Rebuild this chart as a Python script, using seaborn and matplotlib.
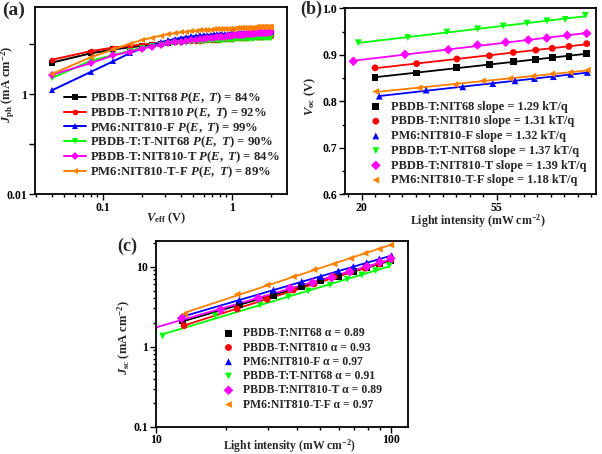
import matplotlib
matplotlib.use("Agg")
import matplotlib.pyplot as plt
import matplotlib.ticker as mticker
import numpy as np
import pandas as pd
import seaborn as sns

# ---- panel (a): Jph vs Veff ----
veff = [0.04, 0.08, 0.12, 0.16, 0.20, 0.24, 0.28, 0.32, 0.36, 0.40,
        0.44, 0.48, 0.52, 0.56, 0.60, 0.64, 0.68, 0.72, 0.76, 0.80,
        0.84, 0.88, 0.92, 0.96, 1.00, 1.04, 1.08, 1.12, 1.16, 1.20,
        1.24, 1.28, 1.32, 1.36, 1.40, 1.44, 1.48, 1.52, 1.56, 1.60,
        1.64, 1.68, 1.72, 1.76, 1.80, 1.84, 1.88, 1.92, 1.96, 2.00]
jph_nit68 = [4.3, 6.6, 7.9, 8.7, 9.3, 9.8, 10.3, 10.7, 11.1, 11.4,
             11.7, 12.0, 12.3, 12.5, 12.7, 12.9, 13.1, 13.3, 13.5, 13.7,
             13.9, 14.1, 14.3, 14.4, 14.6, 14.7, 14.8, 14.9, 15.0, 15.1,
             15.2, 15.3, 15.4, 15.5, 15.6, 15.7, 15.8, 15.8, 15.9, 16.0,
             16.0, 16.1, 16.2, 16.2, 16.3, 16.4, 16.4, 16.5, 16.5, 16.6]
jph_nit810 = [4.9, 7.3, 8.6, 9.3, 9.9, 10.3, 10.6, 10.9, 11.1, 11.3,
              11.5, 11.7, 11.8, 11.9, 12.0, 12.1, 12.2, 12.3, 12.4, 12.5,
              12.6, 12.7, 12.8, 12.9, 13.0, 13.1, 13.2, 13.3, 13.4, 13.5,
              13.5, 13.6, 13.7, 13.8, 13.8, 13.9, 14.0, 14.0, 14.1, 14.2,
              14.2, 14.3, 14.3, 14.4, 14.4, 14.5, 14.5, 14.6, 14.6, 14.7]
jph_nit810f = [1.2, 2.8, 4.6, 6.6, 8.3, 9.8, 11.0, 12.0, 12.8, 13.5,
               14.0, 14.4, 14.7, 15.0, 15.2, 15.4, 15.6, 15.8, 15.9, 16.0,
               16.1, 16.2, 16.3, 16.4, 16.5, 16.6, 16.7, 16.8, 16.8, 16.9,
               17.0, 17.0, 17.1, 17.2, 17.2, 17.3, 17.3, 17.4, 17.4, 17.5,
               17.5, 17.6, 17.6, 17.7, 17.7, 17.8, 17.8, 17.9, 17.9, 18.0]
jph_tnit68 = [2.1, 4.7, 6.1, 7.4, 8.5, 9.2, 9.7, 10.1, 10.4, 10.6,
              10.8, 11.0, 11.1, 11.2, 11.3, 11.4, 11.5, 11.6, 11.7, 11.8,
              11.9, 12.0, 12.1, 12.2, 12.3, 12.4, 12.5, 12.6, 12.6, 12.7,
              12.8, 12.8, 12.9, 12.9, 13.0, 13.0, 13.1, 13.1, 13.2, 13.2,
              13.3, 13.3, 13.4, 13.4, 13.4, 13.5, 13.5, 13.5, 13.6, 13.6]
jph_nit810t = [2.45, 4.2, 6.0, 7.1, 8.2, 9.0, 9.8, 10.4, 10.9, 11.3,
               11.7, 12.0, 12.3, 12.6, 12.9, 13.1, 13.3, 13.5, 13.7, 13.9,
               14.1, 14.3, 14.5, 14.7, 14.9, 15.0, 15.2, 15.3, 15.5, 15.6,
               15.7, 15.9, 16.0, 16.1, 16.2, 16.3, 16.4, 16.5, 16.6, 16.7,
               16.8, 16.9, 16.9, 17.0, 17.1, 17.1, 17.2, 17.3, 17.3, 17.4]
jph_nit810tf = [2.55, 5.5, 7.9, 10.2, 12.2, 13.6, 14.9, 15.8, 16.6, 17.3,
                17.8, 18.2, 18.6, 18.9, 19.2, 19.4, 19.6, 19.8, 20.0, 20.1,
                20.2, 20.3, 20.4, 20.5, 20.6, 20.7, 20.8, 20.9, 21.0, 21.1,
                21.2, 21.3, 21.3, 21.4, 21.5, 21.5, 21.6, 21.7, 21.7, 21.8,
                21.9, 21.9, 22.0, 22.1, 22.1, 22.2, 22.3, 22.3, 22.4, 22.5]

blends = ["PBDB-T:NIT68", "PBDB-T:NIT810", "PM6:NIT810-F",
          "PBDB-T:T-NIT68", "PBDB-T:NIT810-T", "PM6:NIT810-T-F"]
pet = ["84", "92", "99", "90", "84", "89"]
slopes = ["1.29", "1.31", "1.32", "1.37", "1.39", "1.18"]
alphas = ["0.89", "0.93", "0.97", "0.91", "0.89", "0.97"]
colors = ["#000000", "#FF0000", "#0000FF", "#00FF00", "#FF00FF", "#FF8000"]
markers = ["s", "o", "^", "v", "D", "<"]

# ---- panel (b): Voc vs light intensity ----
voc_int = [
    [22.2, 30.2, 40.7, 51.8, 61.8, 73.0, 82.5, 93.4, 106.5],
    [22.2, 30.2, 40.7, 51.8, 61.8, 73.0, 82.5, 93.4, 106.5],
    [22.9, 32.4, 42.5, 53.1, 62.6, 72.3, 83.2, 94.6, 107.0],
    [19.6, 28.3, 37.8, 47.5, 57.4, 68.5, 79.3, 90.8, 105.5],
    [18.9, 27.7, 38.2, 47.4, 58.4, 69.1, 79.2, 92.2, 106.5],
    [22.3, 30.8, 40.2, 49.3, 60.3, 71.4, 82.2, 94.1, 107.0],
]
voc = [
    [0.852, 0.861, 0.872, 0.879, 0.885, 0.890, 0.894, 0.897, 0.903],
    [0.872, 0.881, 0.891, 0.898, 0.905, 0.910, 0.914, 0.918, 0.924],
    [0.811, 0.824, 0.831, 0.838, 0.844, 0.849, 0.853, 0.858, 0.862],
    [0.926, 0.937, 0.949, 0.956, 0.962, 0.968, 0.973, 0.976, 0.985],
    [0.886, 0.901, 0.911, 0.921, 0.927, 0.932, 0.936, 0.942, 0.946],
    [0.821, 0.829, 0.836, 0.844, 0.849, 0.854, 0.859, 0.862, 0.867],
]

# ---- panel (c): Jsc vs light intensity ----
jsc_int = [
    [13.0, 22.7, 31.7, 41.8, 50.4, 59.8, 69.3, 79.0, 89.4, 100.0],
    [13.2, 22.2, 29.8, 38.5, 47.2, 57.4, 67.6, 77.8, 89.4, 100.0],
    [13.0, 22.7, 31.7, 41.8, 50.4, 59.8, 69.3, 79.0, 89.4, 100.9],
    [10.7, 17.9, 27.8, 36.7, 44.6, 55.2, 65.3, 75.3, 86.3, 98.6],
    [12.9, 18.9, 27.3, 37.3, 46.5, 56.1, 67.0, 79.0, 90.0, 100.0],
    [13.3, 22.2, 29.8, 38.5, 47.2, 57.4, 67.6, 77.8, 89.4, 100.0],
]
jsc = [
    [2.09, 3.32, 4.4, 5.6, 6.6, 7.6, 8.7, 9.7, 10.8, 12.0],
    [1.83, 2.96, 3.91, 5.11, 6.08, 7.5, 8.66, 9.55, 10.8, 12.1],
    [2.37, 3.83, 5.11, 6.5, 7.5, 8.8, 10.0, 11.2, 12.5, 13.7],
    [1.36, 2.42, 3.32, 4.22, 4.97, 5.9, 6.96, 7.87, 8.91, 10.3],
    [2.26, 2.88, 4.03, 5.37, 6.3, 7.3, 8.66, 10.0, 11.4, 12.7],
    [2.56, 4.52, 5.9, 7.5, 9.2, 10.8, 12.7, 14.7, 16.6, 18.7],
]

sns.set_style("ticks")
plt.rcParams["font.family"] = ["Liberation Serif", "DejaVu Serif"]
plt.rcParams["font.weight"] = "bold"
plt.rcParams["axes.labelweight"] = "bold"
plt.rcParams["mathtext.fontset"] = "custom"
plt.rcParams["mathtext.rm"] = "Liberation Serif:bold"
plt.rcParams["mathtext.bf"] = "Liberation Serif:bold"
plt.rcParams["mathtext.it"] = "Liberation Serif:italic:bold"

W, H = 602, 454
fig = plt.figure(figsize=(W / 100, H / 100), dpi=100)


def px_axes(l, t, r, b):
    return fig.add_axes([l / W, 1 - b / H, (r - l) / W, (b - t) / H])


def style_axes(ax):
    for s in ax.spines.values():
        s.set_linewidth(1.3)
        s.set_color("black")
    ax.tick_params(which="both", direction="out", top=False, right=False,
                   width=1.0, labelsize=8.5, colors="black", pad=1.5)
    ax.tick_params(which="major", length=4)
    ax.tick_params(which="minor", length=2.2)


ax_a = px_axes(35, 6.7, 287.3, 194.3)
ax_b = px_axes(344.5, 8.3, 596, 194.3)
ax_c = px_axes(155.7, 240.7, 408, 426.7)

# (a)
jph_all = [jph_nit68, jph_nit810, jph_nit810f, jph_tnit68, jph_nit810t, jph_nit810tf]
for i, name in enumerate(blends):
    df = pd.DataFrame({"veff": veff, "jph": jph_all[i]})
    sns.lineplot(data=df, x="veff", y="jph", ax=ax_a, color=colors[i],
                 marker=markers[i], markersize=4, markeredgewidth=0, linewidth=1.4,
                 label=f"{name} $\\mathit{{P(E,\\ T)}}$ = {pet[i]}%")
ax_a.set_xscale("log")
ax_a.set_yscale("log")
ax_a.set_xlim(0.0296, 2.67)
ax_a.set_ylim(0.01, 56.5)
ax_a.set_xticks([0.1, 1], ["0.1", "1"])
ax_a.xaxis.set_minor_locator(mticker.LogLocator(subs=np.arange(2, 10)))
ax_a.xaxis.set_minor_formatter(mticker.NullFormatter())
ax_a.set_yticks([0.01, 0.1, 1, 10], ["0.01", "", "1", ""])
ax_a.yaxis.set_minor_locator(mticker.NullLocator())
style_axes(ax_a)
ax_a.set_xlabel("$\\mathit{V}_{\\mathrm{eff}}$ (V)", fontsize=9)
ax_a.set_ylabel("$\\mathit{J}_{\\mathrm{ph}}$ (mA cm$^{-2}$)", fontsize=9)
ax_a.xaxis.set_label_coords(0.519, -0.088)
ax_a.yaxis.set_label_coords(-0.071, 0.585)
ax_a.legend(loc="upper left", bbox_to_anchor=(0.115, 0.553), frameon=False,
            fontsize=9.2, borderpad=0, borderaxespad=0, handlelength=1.75,
            handletextpad=0.25, labelspacing=-0.05)

# (b)
for i, name in enumerate(blends):
    x = np.array(voc_int[i])
    y = np.array(voc[i])
    k, c0 = np.polyfit(np.log(x), y, 1)
    xs = np.array([x.min(), x.max()])
    ax_b.plot(xs, k * np.log(xs) + c0, color=colors[i], lw=1.3, zorder=2)
    sns.scatterplot(x=x, y=y, ax=ax_b, color=colors[i], marker=markers[i], s=24,
                    edgecolor="none", zorder=3,
                    label=f"{name} slope = {slopes[i]} kT/q")
ax_b.set_xscale("log", base=np.e)
ax_b.set_xlim(17.7, 114.1)
ax_b.set_ylim(0.6, 1.0)
ax_b.set_xticks([np.e ** 3, np.e ** 4], ["20", "55"])
ax_b.set_xticks([t for t in np.exp(np.arange(2.9, 4.75, 0.1)) if 17.7 < t < 114.1], minor=True)
ax_b.xaxis.set_minor_formatter(mticker.NullFormatter())
ax_b.set_yticks([0.6, 0.7, 0.8, 0.9, 1.0], ["0.6", "0.7", "0.8", "0.9", "1.0"])
ax_b.yaxis.set_minor_locator(mticker.MultipleLocator(0.05))
style_axes(ax_b)
ax_b.set_xlabel("Light intensity (mW cm$^{-2}$)", fontsize=8.6)
ax_b.set_ylabel("$\\mathit{V}_{\\mathrm{oc}}$ (V)", fontsize=9)
ax_b.xaxis.set_label_coords(0.531, -0.1)
ax_b.yaxis.set_label_coords(-0.105, 0.523)
ax_b.legend(loc="upper left", bbox_to_anchor=(0.1, 0.503), frameon=False,
            fontsize=8.9, borderpad=0, borderaxespad=0, handlelength=1.0,
            handletextpad=0.7, labelspacing=0.22)

# (c)
for i, name in enumerate(blends):
    x = np.array(jsc_int[i])
    y = np.array(jsc[i])
    k, c0 = np.polyfit(np.log10(x), np.log10(y), 1)
    x0 = 10.0 if i == 4 else x.min()
    xs = np.array([x0, x.max()])
    ax_c.plot(xs, 10 ** (k * np.log10(xs) + c0), color=colors[i], lw=1.3, zorder=2)
    sns.scatterplot(x=x, y=y, ax=ax_c, color=colors[i], marker=markers[i], s=24,
                    edgecolor="none", zorder=3,
                    label=f"{name} \u03b1 = {alphas[i]}")
ax_c.set_xscale("log")
ax_c.set_yscale("log")
ax_c.set_xlim(10, 118.4)
ax_c.set_ylim(0.1, 21.1)
ax_c.set_xticks([10, 100], ["10", "100"])
ax_c.xaxis.set_minor_locator(mticker.LogLocator(subs=np.arange(2, 10)))
ax_c.xaxis.set_minor_formatter(mticker.NullFormatter())
ax_c.set_yticks([0.1, 1, 10], ["0.1", "1", "10"])
ax_c.yaxis.set_minor_locator(mticker.LogLocator(subs=np.arange(2, 10)))
ax_c.yaxis.set_minor_formatter(mticker.NullFormatter())
style_axes(ax_c)
ax_c.set_xlabel("Light intensity (mW cm$^{-2}$)", fontsize=8.4)
ax_c.set_ylabel("$\\mathit{J}_{\\mathrm{sc}}$ (mA cm$^{-2}$)", fontsize=9)
ax_c.xaxis.set_label_coords(0.53, -0.058)
ax_c.yaxis.set_label_coords(-0.09, 0.482)
ax_c.legend(loc="upper left", bbox_to_anchor=(0.265, 0.534), frameon=False,
            fontsize=8.5, borderpad=0, borderaxespad=0, handlelength=1.0,
            handletextpad=0.75, labelspacing=0.19)

fig.text(2 / W, 1 - 2 / H, "(a)", fontsize=14, fontweight="bold", ha="left", va="top")
fig.text(300 / W, 1 - 1 / H, "(b)", fontsize=13, fontweight="bold", ha="left", va="top")
fig.text(117 / W, 1 - 238 / H, "(c)", fontsize=13, fontweight="bold", ha="left", va="top")

fig.savefig("out.png", dpi=100)
